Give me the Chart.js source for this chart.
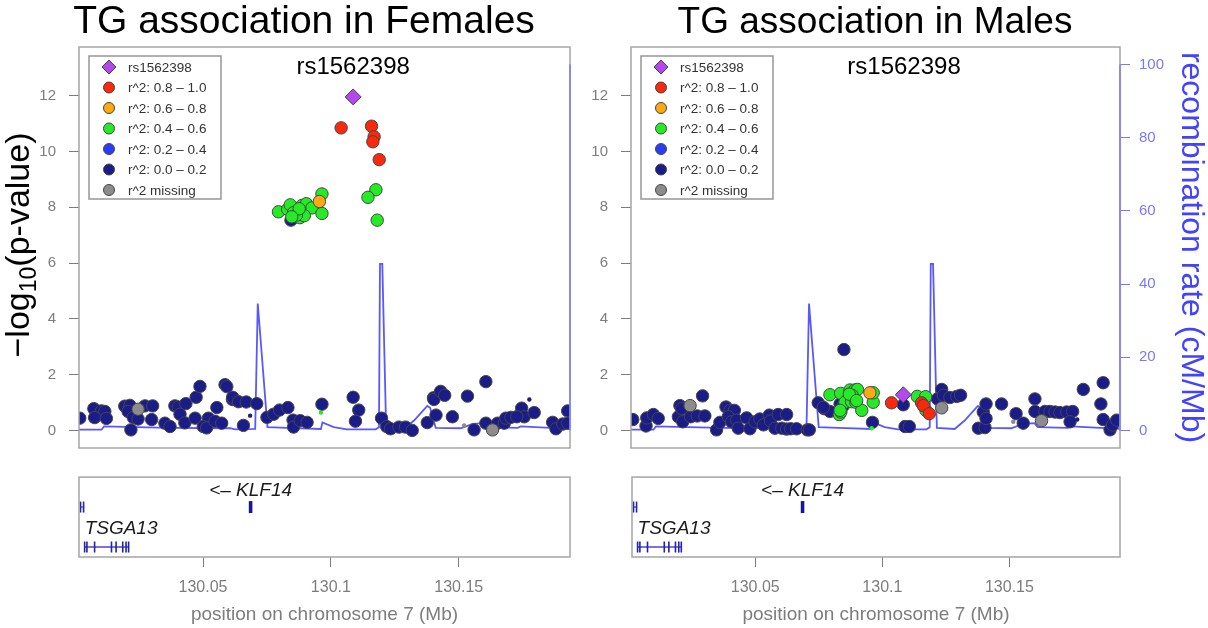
<!DOCTYPE html>
<html>
<head>
<meta charset="utf-8">
<script src="https://cdn.jsdelivr.net/npm/chart.js@4.4.1/dist/chart.umd.min.js"></script>
<style>
  html, body { margin: 0; padding: 0; background: #fff; }
  #wrap { position: relative; width: 1208px; height: 628px; overflow: hidden; }
  canvas { position: absolute; }
</style>
</head>
<body>
<div id="wrap">
  <canvas id="femPlot" width="600" height="470" style="left:0;top:0"></canvas>
  <canvas id="malePlot" width="633" height="470" style="left:575px;top:0"></canvas>
  <canvas id="femGenes" width="600" height="158" style="left:0;top:470px"></canvas>
  <canvas id="maleGenes" width="633" height="158" style="left:575px;top:470px"></canvas>
</div>
<script>
'use strict';

/* ── axis ranges and ticks ── */
const POS_MIN = 130.0015, POS_MAX = 130.1935;
const P_MIN = -0.63, P_MAX = 13.75;
const RECOMB_MIN = -4.8, RECOMB_MAX = 104.8;
const P_TICKS = [0, 2, 4, 6, 8, 10, 12];
const RECOMB_TICKS = [0, 20, 40, 60, 80, 100];
const POS_TICKS = [130.05, 130.1, 130.15];

const LEAD_SNP = 'rs1562398';
const LEGEND_LABELS = ['rs1562398', 'r^2: 0.8 \u2013 1.0', 'r^2: 0.6 \u2013 0.8', 'r^2: 0.4 \u2013 0.6',
                       'r^2: 0.2 \u2013 0.4', 'r^2: 0.0 \u2013 0.2', 'r^2 missing'];

/* ── recombination rate (cM/Mb), shared by both panels ── */
const RECOMB_POS = [130.0015, 130.0103, 130.0113, 130.0240, 130.0371, 130.0606, 130.0625, 130.0704, 130.0714,
                    130.0752, 130.0828, 130.0961, 130.0967, 130.1011, 130.1063, 130.1175, 130.1188, 130.1192,
                    130.1201, 130.1216, 130.1286, 130.1325, 130.1377, 130.1388, 130.1410, 130.1508, 130.1554,
                    130.1599, 130.1612, 130.1730, 130.1743, 130.1939];
const RECOMB_RATE = [0.2, 0.2, 1.1, 0.9, 0.7, 0.6, 0.3, 0.4, 34.7,
                     0.9, 0.7, 0.4, 2.2, 0.9, 0.3, 0.3, 0.9, 45.5,
                     45.5, 0.7, 0.4, 2.7, 6.7, 6.2, 0.7, 0.6, 1.8,
                     2.0, 0.9, 0.7, 1.1, 0.4];

/* ── Females: [position Mb, -log10 p] ── */
const FEMALE_LEAD = [[130.1087, 11.96]];
const FEMALE_R2_08 = [[130.1040, 10.85], [130.1159, 10.91], [130.1169, 10.53], [130.1164, 10.35], [130.1189, 9.71]];
const FEMALE_R2_06 = [[130.0955, 8.21]];
const FEMALE_R2_04 = [[130.0795, 7.84], [130.0831, 7.93], [130.0841, 8.09], [130.0854, 7.81], [130.0878, 7.63],
                      [130.0887, 8.07], [130.0904, 8.13], [130.0926, 7.98], [130.0965, 8.48], [130.0965, 7.78],
                      [130.0896, 7.70], [130.0865, 7.72], [130.0876, 7.95], [130.0847, 7.66],
                      [130.1176, 8.63], [130.1145, 8.36], [130.1181, 7.54]];
const FEMALE_R2_00 = [[130.0018, 0.44], [130.0073, 0.78], [130.0103, 0.70], [130.0116, 0.68], [130.0076, 0.46],
  [130.0122, 0.43], [130.0194, 0.87], [130.0214, 0.90], [130.0207, 0.68], [130.0227, 0.47], [130.0246, 0.41],
  [130.0273, 0.88], [130.0303, 0.88], [130.0299, 0.39], [130.0218, 0.02], [130.0351, 0.26], [130.0371, 0.14],
  [130.0390, 0.88], [130.0403, 0.84], [130.0433, 0.96], [130.0410, 0.58], [130.0429, 0.27], [130.0469, 0.44],
  [130.0473, 1.19], [130.0488, 1.58], [130.0554, 0.82], [130.0521, 0.44], [130.0501, 0.14], [130.0514, 0.09],
  [130.0547, 0.33], [130.0573, 0.26], [130.0586, 1.64], [130.0593, 1.57], [130.0615, 1.11], [130.0616, 1.19],
  [130.0639, 1.03], [130.0669, 1.02], [130.0710, 0.96], [130.0658, 0.18], [130.0750, 0.47], [130.0776, 0.58],
  [130.0799, 0.73], [130.0832, 0.82], [130.0852, 0.37], [130.0854, 0.12], [130.0880, 0.35], [130.0907, 0.29],
  [130.0965, 0.94], [130.1087, 1.19], [130.1109, 0.73], [130.1096, 0.33], [130.1198, 0.44], [130.1218, 0.14],
  [130.1233, 0.06], [130.1266, 0.12], [130.1292, 0.12], [130.1318, 0.00], [130.1377, 0.28], [130.1401, 1.17],
  [130.1403, 1.11], [130.1429, 1.40], [130.1445, 1.26], [130.1411, 0.55], [130.1534, 1.23], [130.1475, 0.49],
  [130.1560, 0.02], [130.1606, 1.75], [130.1606, 0.26], [130.1652, 0.26], [130.1678, 0.26], [130.1684, 0.44],
  [130.1704, 0.47], [130.1746, 0.80], [130.1756, 0.49], [130.1727, 0.49], [130.1795, 0.64], [130.1867, 0.29],
  [130.1880, 0.06], [130.1907, 0.23], [130.1926, 0.70], [130.1926, 0.26], [130.0844, 7.54]];
const FEMALE_MISSING = [[130.0246, 0.76], [130.1632, 0.02]];
const FEMALE_MINOR_00 = [[130.0684, 0.53], [130.1776, 1.11]];
const FEMALE_MINOR_04 = [[130.0961, 0.64]];
const FEMALE_MINOR_NA = [[130.1521, 0.18]];

/* ── Males: [position Mb, -log10 p] ── */
const MALE_LEAD = [[130.1084, 1.28]];
const MALE_R2_08 = [[130.1038, 0.99], [130.1156, 0.99], [130.1163, 0.89], [130.1186, 0.60]];
const MALE_R2_06 = [[130.0953, 1.35]];
const MALE_R2_04 = [[130.0796, 1.28], [130.0838, 1.33], [130.0875, 1.45], [130.0894, 1.45], [130.0904, 1.47],
                    [130.0883, 1.26], [130.0868, 1.12], [130.0855, 1.01], [130.0881, 1.03], [130.0898, 1.01],
                    [130.0921, 0.72], [130.0966, 1.01], [130.0833, 0.57], [130.0839, 0.66], [130.0966, 1.35],
                    [130.0872, 1.30], [130.0901, 1.07], [130.0836, 0.72],
                    [130.1139, 1.22], [130.1172, 1.21], [130.1173, 0.72]];
const MALE_R2_00 = [[130.0022, 0.39], [130.0074, 0.16], [130.0077, 0.45], [130.0103, 0.57], [130.0122, 0.43],
  [130.0201, 0.49], [130.0207, 0.89], [130.0214, 0.78], [130.0218, 0.31], [130.0249, 0.49], [130.0275, 0.52],
  [130.0305, 0.52], [130.0296, 1.24], [130.0351, 0.02], [130.0364, 0.29], [130.0388, 0.84], [130.0404, 0.72],
  [130.0421, 0.72], [130.0397, 0.49], [130.0410, 0.31], [130.0430, 0.37], [130.0436, 0.08], [130.0469, 0.45],
  [130.0482, 0.06], [130.0502, 0.31], [130.0521, 0.41], [130.0535, 0.20], [130.0558, 0.55], [130.0563, 0.34],
  [130.0593, 0.57], [130.0626, 0.57], [130.0580, 0.08], [130.0607, 0.08], [130.0626, 0.05], [130.0642, 0.06],
  [130.0665, 0.06], [130.0707, 0.02], [130.0715, 0.02], [130.0750, 0.99], [130.0773, 0.78], [130.0796, 0.68],
  [130.0851, 2.90], [130.0836, 0.95], [130.0868, 1.24], [130.0770, 0.83], [130.0849, 0.89], [130.0963, 0.29],
  [130.1084, 0.92], [130.1091, 0.14], [130.1108, 0.14], [130.1218, 1.13], [130.1235, 1.47], [130.1241, 1.26],
  [130.1267, 1.18], [130.1294, 1.22], [130.1309, 1.26], [130.1379, 0.08], [130.1405, 0.10], [130.1398, 0.66],
  [130.1409, 0.95], [130.1409, 0.43], [130.1470, 0.95], [130.1527, 0.60], [130.1555, 0.26], [130.1601, 1.13],
  [130.1601, 0.68], [130.1640, 0.68], [130.1660, 0.68], [130.1680, 0.66], [130.1699, 0.64], [130.1726, 0.66],
  [130.1749, 0.68], [130.1739, 0.31], [130.1791, 1.47], [130.1869, 1.71], [130.1860, 0.95], [130.1869, 0.39],
  [130.1896, 0.02], [130.1906, 0.20], [130.1922, 0.37]];
const MALE_MISSING = [[130.0247, 0.89], [130.1235, 0.81], [130.1627, 0.35]];
const MALE_MINOR_00 = [[130.1767, 0.39]];
const MALE_MINOR_04 = [[130.0960, 0.08]];
const MALE_MINOR_NA = [[130.1516, 0.31]];

/* ── gene track ── */
const GENE_LABELS = ['TSGA13', '<\u2013 KLF14'];
const GENE_START = [130.0037, 130.0679];
const GENE_END = [130.0211, 130.0693];
const GENE_ROW = [0.5, 2.5];
const GENE_LABEL_ROW = [1.4, 3.3];
const TSGA13_EXONS = [130.0037, 130.0046, 130.0076, 130.0142, 130.0160, 130.0186, 130.0199, 130.0209];
const EDGE_GENE = [130.0021, 130.0033];   // unlabelled transcript cut at the left edge

const COLORS = {
    lead: 'rgb(180,72,238)',
    r08: 'rgb(250,40,12)',
    r06: 'rgb(255,168,18)',
    r04: 'rgb(36,236,36)',
    r02: 'rgb(40,60,250)',
    r00: 'rgb(26,28,138)',
    na: 'rgb(140,140,140)',
    recomb: 'rgb(88,88,255)',
    recombTitle: 'rgb(66,66,255)',
    recombTick: 'rgb(120,120,255)',
    tick: 'rgb(125,125,125)',
    frame: 'rgb(165,165,165)',
    exon: 'rgb(34,34,170)',
    geneLine: 'rgb(72,72,205)',
};
const LEGEND_COLORS = [COLORS.lead, COLORS.r08, COLORS.r06, COLORS.r04, COLORS.r02, COLORS.r00, COLORS.na];
const FONT = "'Liberation Sans', Arial, Helvetica, sans-serif";
Chart.defaults.font.family = FONT;

const toPts = arr => arr.map(([x, y]) => ({ x, y }));

function snpSet(data, color, small, style) {
    return {
        data: toPts(data),
        backgroundColor: color,
        borderColor: small ? color : 'rgb(70,70,70)',
        borderWidth: small ? 0 : 1,
        pointRadius: small ? 2.2 : (style ? 8 : 6.2),
        pointStyle: style || 'circle',
        yAxisID: 'y',
        clip: 0,
    };
}

function recombSet() {
    return {
        data: RECOMB_POS.map((x, i) => ({ x, y: RECOMB_RATE[i] })),
        showLine: true,
        borderColor: COLORS.recomb,
        borderWidth: 1.8,
        pointRadius: 0,
        yAxisID: 'y2',
        clip: 0,
    };
}

/* ── plugins ── */
const framePlugin = {
    id: 'frame',
    afterDatasetsDraw(chart) {
        const { ctx, chartArea: a } = chart;
        ctx.save();
        ctx.strokeStyle = COLORS.frame;
        ctx.lineWidth = 1.5;
        ctx.strokeRect(a.left, a.top, a.right - a.left, a.bottom - a.top);
        ctx.restore();
    },
};

function panelDecor(title, titleX, titleSize, yTitle) {
    return {
        id: 'panelDecor',
        afterDraw(chart) {
            const { ctx, chartArea: a, scales } = chart;
            ctx.save();
            // recombination axis line (0 – 100)
            ctx.strokeStyle = COLORS.recombTick;
            ctx.lineWidth = 1.5;
            ctx.beginPath();
            ctx.moveTo(a.right, scales.y2.getPixelForValue(0));
            ctx.lineTo(a.right, scales.y2.getPixelForValue(100));
            ctx.stroke();

            // panel title
            ctx.fillStyle = '#000';
            ctx.font = `${titleSize}px ${FONT}`;
            ctx.textAlign = 'center';
            ctx.textBaseline = 'alphabetic';
            ctx.fillText(title, titleX, 33);

            // lead SNP name above the lead SNP
            ctx.font = `24px ${FONT}`;
            ctx.textBaseline = 'middle';
            ctx.fillText(LEAD_SNP, scales.x.getPixelForValue(FEMALE_LEAD[0][0]), a.top + 20);

            // legend
            const left = a.left + 10, top = a.top + 9, w = 132, h = 143;
            ctx.fillStyle = '#fff';
            ctx.fillRect(left, top, w, h);
            ctx.strokeStyle = 'rgb(150,150,150)';
            ctx.lineWidth = 1.5;
            ctx.strokeRect(left, top, w, h);
            ctx.font = `13.5px ${FONT}`;
            ctx.textAlign = 'left';
            LEGEND_LABELS.forEach((label, i) => {
                const y = top + 11 + i * 20.5, x = left + 20;
                ctx.fillStyle = LEGEND_COLORS[i];
                ctx.strokeStyle = 'rgb(70,70,70)';
                ctx.lineWidth = 1;
                ctx.beginPath();
                if (i === 0) {
                    ctx.moveTo(x, y - 7); ctx.lineTo(x + 7, y); ctx.lineTo(x, y + 7); ctx.lineTo(x - 7, y); ctx.closePath();
                } else {
                    ctx.arc(x, y, 5.5, 0, Math.PI * 2);
                }
                ctx.fill();
                ctx.stroke();
                ctx.fillStyle = '#333';
                ctx.fillText(label, left + 39, y + 1);
            });

            // -log10(p-value) title with a real subscript
            if (yTitle) {
                ctx.translate(0, 245);
                ctx.rotate(-Math.PI / 2);
                ctx.fillStyle = '#000';
                const big = `34px ${FONT}`, small = `23px ${FONT}`;
                ctx.font = big; const w1 = ctx.measureText('\u2212log').width, w3 = ctx.measureText('(p-value)').width;
                ctx.font = small; const w2 = ctx.measureText('10').width;
                let x = -(w1 + w2 + w3) / 2;
                ctx.textBaseline = 'alphabetic';
                ctx.font = big; ctx.fillText('\u2212log', x, 29); x += w1;
                ctx.font = small; ctx.fillText('10', x, 36); x += w2;
                ctx.font = big; ctx.fillText('(p-value)', x, 29);
            }
            ctx.restore();
        },
    };
}

const geneLabelPlugin = {
    id: 'geneLabels',
    afterDatasetsDraw(chart) {
        const { ctx, scales } = chart;
        ctx.save();
        ctx.fillStyle = '#1a1a1a';
        ctx.font = `italic 19px ${FONT}`;
        ctx.textBaseline = 'middle';
        GENE_LABELS.forEach((label, i) => {
            const centred = GENE_END[i] - GENE_START[i] < 0.005;
            ctx.textAlign = centred ? 'center' : 'left';
            const x = centred ? (GENE_START[i] + GENE_END[i]) / 2 : GENE_START[i];
            ctx.fillText(label, scales.x.getPixelForValue(x), scales.y.getPixelForValue(GENE_LABEL_ROW[i]));
        });
        ctx.restore();
    },
};

/* ── association panel ── */
function makePanel(canvasId, s, opts) {
    const datasets = [
        snpSet(s.lead, COLORS.lead, false, 'rectRot'),
        snpSet(s.r08, COLORS.r08),
        snpSet(s.r06, COLORS.r06),
        snpSet(s.r04, COLORS.r04),
        snpSet(s.minor04, COLORS.r04, true),
        snpSet(s.minor00, COLORS.r00, true),
        snpSet(s.minorNa, COLORS.na, true),
        snpSet(s.missing, COLORS.na),
        snpSet(s.r00, COLORS.r00),
        recombSet(),
    ];
    return new Chart(document.getElementById(canvasId), {
        type: 'scatter',
        data: { datasets },
        options: {
            responsive: false,
            animation: false,
            layout: { padding: { top: 47, bottom: 12, left: 0, right: opts.padRight } },
            plugins: { legend: { display: false }, tooltip: { enabled: false } },
            scales: {
                x: { type: 'linear', min: POS_MIN, max: POS_MAX, display: false },
                y: {
                    min: P_MIN, max: P_MAX,
                    afterBuildTicks: sc => { sc.ticks = P_TICKS.map(v => ({ value: v })); },
                    afterFit: sc => { sc.width = opts.yWidth; },
                    grid: { drawOnChartArea: false, tickLength: 10, color: COLORS.tick },
                    border: { display: false },
                    ticks: { color: COLORS.tick, font: { size: 15 }, padding: 13 },
                },
                y2: {
                    position: 'right',
                    display: opts.showRecomb,
                    min: RECOMB_MIN, max: RECOMB_MAX,
                    afterBuildTicks: sc => { sc.ticks = RECOMB_TICKS.map(v => ({ value: v })); },
                    afterFit: sc => { sc.width = opts.showRecomb ? 88 : 0; },
                    grid: { drawOnChartArea: false, tickLength: 10, color: COLORS.recombTick },
                    border: { display: false },
                    ticks: { color: COLORS.recombTick, font: { size: 15 }, padding: 9 },
                    title: {
                        display: true, text: 'recombination rate (cM/Mb)', color: COLORS.recombTitle,
                        font: { size: 32, lineHeight: 1 }, padding: { top: 1, bottom: 0 },
                    },
                },
            },
        },
        plugins: [framePlugin, panelDecor(opts.title, opts.titleX, opts.titleSize, opts.yTitle)],
    });
}

/* ── gene panel ── */
function makeGenes(canvasId, padLeft, padRight) {
    const lineSet = (x0, x1, y, width, color) => ({
        data: [{ x: x0, y }, { x: x1, y }],
        showLine: true, borderColor: color, borderWidth: width, borderCapStyle: 'butt',
        pointRadius: 0, clip: 0,
    });
    const exonSet = (xs, y) => ({
        data: xs.map(x => ({ x, y })),
        pointStyle: 'line', rotation: 90, pointRadius: 5.5,
        borderColor: COLORS.exon, borderWidth: 1.6, clip: 0,
    });
    const datasets = [
        exonSet(TSGA13_EXONS, GENE_ROW[0]),
        exonSet(EDGE_GENE, GENE_ROW[1]),
        lineSet(GENE_START[1], GENE_END[1], GENE_ROW[1], 12, 'rgb(22,22,150)'),
        lineSet(GENE_START[0], GENE_END[0], GENE_ROW[0], 1.3, COLORS.geneLine),
        lineSet(EDGE_GENE[0], EDGE_GENE[1], GENE_ROW[1], 1.3, COLORS.geneLine),
    ];
    return new Chart(document.getElementById(canvasId), {
        type: 'scatter',
        data: { datasets },
        options: {
            responsive: false,
            animation: false,
            layout: { padding: { top: 7, bottom: 0, left: padLeft, right: padRight } },
            plugins: { legend: { display: false }, tooltip: { enabled: false } },
            scales: {
                x: {
                    type: 'linear', min: POS_MIN, max: POS_MAX,
                    afterBuildTicks: sc => { sc.ticks = POS_TICKS.map(v => ({ value: v })); },
                    afterFit: sc => { sc.height = 71; },
                    grid: { drawOnChartArea: false, tickLength: 10, color: COLORS.tick },
                    border: { display: false },
                    ticks: {
                        color: COLORS.tick, font: { size: 16 }, padding: 11, maxRotation: 0,
                        callback: v => String(Math.round(v * 100) / 100),
                    },
                    title: {
                        display: true, text: 'position on chromosome 7 (Mb)', color: COLORS.tick,
                        font: { size: 19, lineHeight: 1 }, padding: { top: 0, bottom: 4 },
                    },
                },
                y: { min: 0, max: 4, display: false },
            },
        },
        plugins: [framePlugin, geneLabelPlugin],
    });
}

const FEMALE = { lead: FEMALE_LEAD, r08: FEMALE_R2_08, r06: FEMALE_R2_06, r04: FEMALE_R2_04, r00: FEMALE_R2_00,
                 missing: FEMALE_MISSING, minor00: FEMALE_MINOR_00, minor04: FEMALE_MINOR_04, minorNa: FEMALE_MINOR_NA };
const MALE = { lead: MALE_LEAD, r08: MALE_R2_08, r06: MALE_R2_06, r04: MALE_R2_04, r00: MALE_R2_00,
               missing: MALE_MISSING, minor00: MALE_MINOR_00, minor04: MALE_MINOR_04, minorNa: MALE_MINOR_NA };

makePanel('femPlot', FEMALE, { padRight: 30, yWidth: 79, showRecomb: false, title: 'TG association in Females',
                               titleX: 304, titleSize: 39, yTitle: true });
makePanel('malePlot', MALE, { padRight: 0, yWidth: 56, showRecomb: true, title: 'TG association in Males',
                              titleX: 300, titleSize: 37, yTitle: false });
makeGenes('femGenes', 79, 30);
makeGenes('maleGenes', 57, 88);
</script>
</body>
</html>
